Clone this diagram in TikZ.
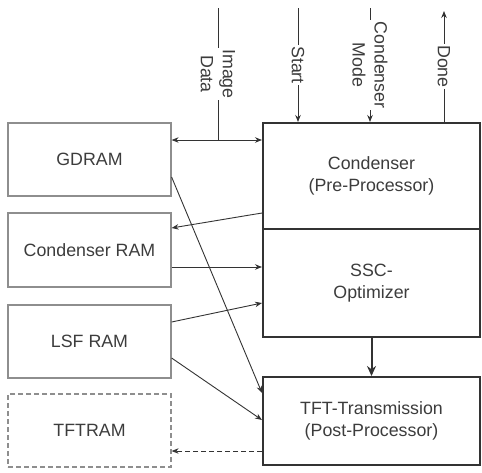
\documentclass[tikz,border=0pt]{standalone}
\usepackage{fontspec}
\setmainfont{Liberation Sans}
\usetikzlibrary{arrows.meta}
\definecolor{txt}{HTML}{3C3C3C}
\definecolor{ln}{HTML}{333333}
\definecolor{lbox}{HTML}{8E8E8E}
\begin{document}
\begin{tikzpicture}[x=1pt,y=-1pt,
  every node/.style={font=\fontsize{17.8}{22}\selectfont, text=txt},
  membox/.style={draw=lbox, line width=1.2pt, minimum width=163pt, minimum height=73pt, inner sep=0pt},
  procbox/.style={draw=ln, line width=2pt, minimum width=217pt, inner sep=0pt, align=center},
  conn/.style={draw=ln, line width=0.9pt},
  tip/.style={-{Stealth[length=7pt,width=5.5pt]}},
  sig/.style={midway, rotate=-90, fill=white, inner sep=1.5pt, align=center}]
\useasboundingbox (0,0) rectangle (482,472);
% memory boxes
\node[membox] (gdram) at (89.5,159.5) {GDRAM};
\node[membox, minimum height=74pt] (cram) at (89.5,250) {Condenser RAM};
\node[membox] (lsf) at (89.5,341.5) {LSF RAM};
\node[membox, dashed, dash pattern=on 5pt off 3pt] (tftram) at (89.5,430.5) {TFTRAM};
% processing boxes
\node[procbox, minimum height=106pt] (cond) at (371.5,176) {Condenser\\(Pre-Processor)};
\node[procbox, minimum height=108pt] (ssc) at (371.5,283) {SSC-\\Optimizer};
\node[procbox, minimum height=88pt] (tft) at (371.5,421) {TFT-Transmission\\(Post-Processor)};
% helper coordinates
\coordinate (yA) at (0,140);
\coordinate (imgtop) at (218,8);
\coordinate (starttop) at (298,8);
\coordinate (modetop) at (370,8);
\coordinate (donetop) at (444,11);
\coordinate (ycr1) at (0,213);
\coordinate (ycr2) at (0,228);
\coordinate (ycs) at (0,267);
\coordinate (yg1) at (0,177);
\coordinate (yg2) at (0,393);
\coordinate (yl1) at (0,322);
\coordinate (yl2) at (0,303);
\coordinate (yl3) at (0,358);
\coordinate (yl4) at (0,420);
\coordinate (yt) at (0,451);
% top signals
\draw[conn] (imgtop) -- (imgtop |- yA) node[sig] {Image\\Data};
\draw[conn, tip] (starttop) -- (starttop |- cond.north) node[sig] {Start};
\draw[conn, tip] (modetop) -- (modetop |- cond.north) node[sig] {Condenser\\Mode};
\draw[conn, tip] (donetop |- cond.north) -- (donetop) node[sig] {Done};
% connections
\draw[conn, {Stealth[length=7pt,width=5.5pt]}-{Stealth[length=7pt,width=5.5pt]}] (gdram.east |- yA) -- (cond.west |- yA);
\draw[conn, tip] (cond.west |- ycr1) -- (cram.east |- ycr2);
\draw[conn, tip] (cram.east |- ycs) -- (ssc.west |- ycs);
\draw[conn, tip] (gdram.east |- yg1) -- (tft.west |- yg2);
\draw[conn, tip] (lsf.east |- yl1) -- (ssc.west |- yl2);
\draw[conn, tip] (lsf.east |- yl3) -- (tft.west |- yl4);
\draw[draw=ln, line width=2pt, -{Stealth[length=10pt,width=9pt]}] (ssc.south) -- (tft.north);
\draw[conn, tip, dashed, dash pattern=on 5pt off 3pt] (tft.west |- yt) -- (tftram.east |- yt);
\end{tikzpicture}
\end{document}
